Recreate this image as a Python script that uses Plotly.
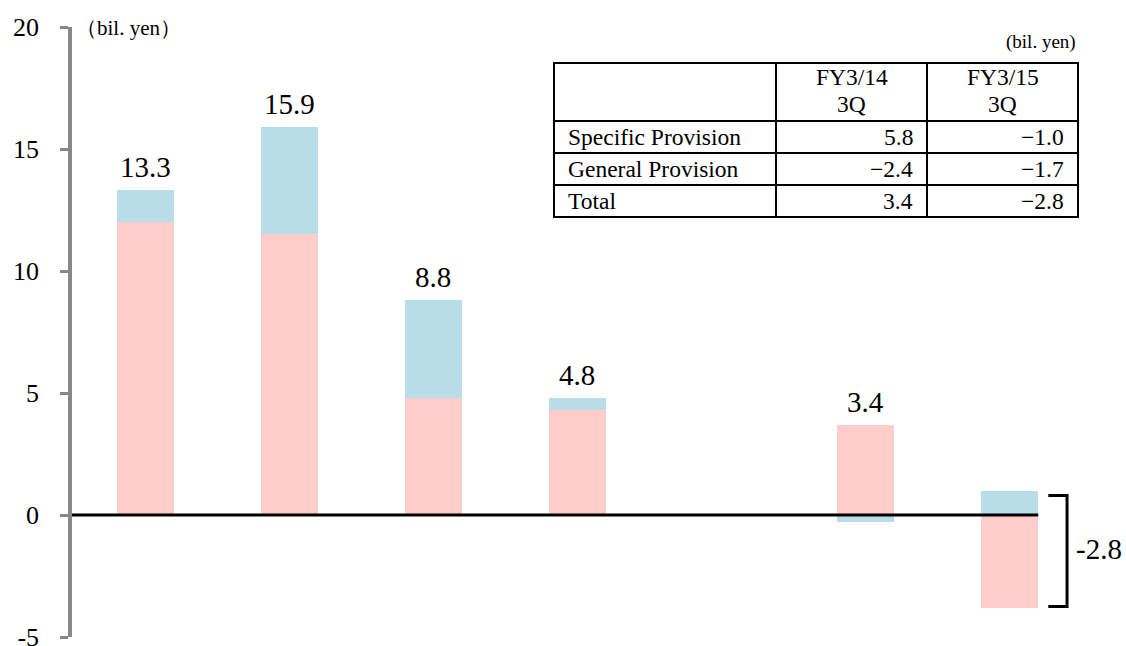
import plotly.graph_objects as go

# ---------------- data ----------------
x_index = [0, 1, 2, 3, 5, 6]          # category slots (slot 4 is empty)
pink_values = [12.0, 11.5, 4.8, 4.3, 3.7, -3.8]
blue_values = [1.3, 4.4, 4.0, 0.5, -0.3, 1.0]
totals = [13.3, 15.9, 8.8, 4.8, 3.4, -2.8]

y_tickvals = [-5, 0, 5, 10, 15, 20]
y_ticktext = ["-5", "0", "5", "10", "15", "20"]
unit_label_axis = "（bil. yen）"
unit_label_table = "(bil. yen)"

table_header_line1 = ["", "FY3/14", "FY3/15"]
table_header_line2 = ["", "3Q", "3Q"]
table_rows = ["Specific Provision", "General Provision", "Total"]
table_fy14 = ["5.8", "−2.4", "3.4"]
table_fy15 = ["−1.0", "−1.7", "−2.8"]

# ---------------- layout constants ----------------
W, H = 1126, 646
L, R, T, B = 72, 46, 27, 9
PW, PH = W - L - R, H - T - B
SERIF = "Liberation Serif, Times New Roman, serif"
PINK = "#FFCCCC"
BLUE = "#B7DDE8"


def px(p):
    return (p - L) / PW


def py(p):
    return (H - B - p) / PH


fig = go.Figure()
fig.add_trace(go.Bar(x=x_index, y=pink_values, width=0.4,
                     marker=dict(color=PINK, line=dict(width=0)),
                     showlegend=False, hoverinfo="skip"))
fig.add_trace(go.Bar(x=x_index, y=blue_values, width=0.4,
                     marker=dict(color=BLUE, line=dict(width=0)),
                     showlegend=False, hoverinfo="skip"))

annotations = []
shapes = []

# bar value labels
for i in range(len(x_index) - 1):
    top = sum(v for v in (pink_values[i], blue_values[i]) if v > 0)
    annotations.append(dict(x=x_index[i], y=top, xref="x", yref="y",
                            text=f"{totals[i]:.1f}", showarrow=False,
                            yanchor="bottom", yshift=5,
                            font=dict(family=SERIF, size=29, color="black")))

# bracket for the last bar
xl = x_index[-1]
b_top = blue_values[-1] - 0.2
b_bot = pink_values[-1] + 0.05
x0b, x1b = xl + 0.27, xl + 0.40
shapes.append(dict(type="path", xref="x", yref="y",
                   path=f"M {x0b} {b_top} L {x1b} {b_top} L {x1b} {b_bot} L {x0b} {b_bot}",
                   line=dict(color="black", width=3)))
annotations.append(dict(x=x1b + 0.045, y=(blue_values[-1] + pink_values[-1]) / 2,
                        xref="x", yref="y", text=f"{totals[-1]:.1f}",
                        showarrow=False, xanchor="left", yanchor="middle",
                        font=dict(family=SERIF, size=29, color="black")))

# zero line
shapes.append(dict(type="line", xref="x", yref="y", x0=-0.51, x1=x_index[-1] + 0.2,
                   y0=0, y1=0, line=dict(color="black", width=3), layer="above"))

# unit label top-left
annotations.append(dict(x=px(74), y=py(28), xref="paper", yref="paper",
                        text=unit_label_axis, showarrow=False, xanchor="left",
                        yanchor="middle",
                        font=dict(family=SERIF, size=21, color="black")))

# ---------------- table ----------------
tx = [554, 776, 927, 1078]
ty = [63, 121, 153, 185, 217]
line_style = dict(color="black", width=2)
shapes.append(dict(type="rect", xref="paper", yref="paper",
                   x0=px(tx[0]), x1=px(tx[-1]), y0=py(ty[0]), y1=py(ty[-1]),
                   line=line_style))
for xv in tx[1:-1]:
    shapes.append(dict(type="line", xref="paper", yref="paper",
                       x0=px(xv), x1=px(xv), y0=py(ty[0]), y1=py(ty[-1]),
                       line=line_style))
for yv in ty[1:-1]:
    shapes.append(dict(type="line", xref="paper", yref="paper",
                       x0=px(tx[0]), x1=px(tx[-1]), y0=py(yv), y1=py(yv),
                       line=line_style))

tfont = dict(family=SERIF, size=23.5, color="black")
annotations.append(dict(x=px(tx[-1]), y=py(42), xref="paper", yref="paper",
                        text=unit_label_table, showarrow=False, xanchor="right",
                        yanchor="middle", font=dict(family=SERIF, size=19, color="black")))
for j in range(len(table_header_line1)):
    if table_header_line1[j]:
        xc = px((tx[j] + tx[j + 1]) / 2)
        annotations.append(dict(x=xc, y=py(77.5), xref="paper", yref="paper",
                                text=table_header_line1[j], showarrow=False,
                                xanchor="center", yanchor="middle", font=tfont,
                                height=24, borderpad=0))
        annotations.append(dict(x=xc, y=py(104.5), xref="paper", yref="paper",
                                text=table_header_line2[j], showarrow=False,
                                xanchor="center", yanchor="middle", font=tfont,
                                height=24, borderpad=0))
for r in range(len(table_rows)):
    yc = py((ty[r + 1] + ty[r + 2]) / 2)
    annotations.append(dict(x=px(tx[0] + 12), y=yc, xref="paper", yref="paper",
                            text=table_rows[r], showarrow=False, xanchor="left",
                            yanchor="middle", font=tfont))
    annotations.append(dict(x=px(tx[2] - 12), y=yc, xref="paper", yref="paper",
                            text=table_fy14[r], showarrow=False, xanchor="right",
                            yanchor="middle", font=tfont))
    annotations.append(dict(x=px(tx[3] - 12), y=yc, xref="paper", yref="paper",
                            text=table_fy15[r], showarrow=False, xanchor="right",
                            yanchor="middle", font=tfont))

fig.update_layout(
    width=W, height=H,
    margin=dict(l=L, r=R, t=T, b=B, autoexpand=False),
    paper_bgcolor="white", plot_bgcolor="white",
    barmode="relative", bargap=0,
    xaxis=dict(range=[-0.51, 6.49], visible=False, fixedrange=True,
               automargin=False),
    yaxis=dict(range=[-5, 20], tickvals=y_tickvals, ticktext=y_ticktext,
               showgrid=False, zeroline=False, showline=True, automargin=False,
               linecolor="#888888", linewidth=3.5,
               ticks="outside", ticklen=8, tickwidth=3, tickcolor="#888888",
               ticklabelstandoff=16, ticklabeloverflow="allow",
               tickfont=dict(family=SERIF, size=26, color="black")),
    annotations=annotations, shapes=shapes,
    showlegend=False,
)

fig.write_html("out.html", config={"displayModeBar": False})
